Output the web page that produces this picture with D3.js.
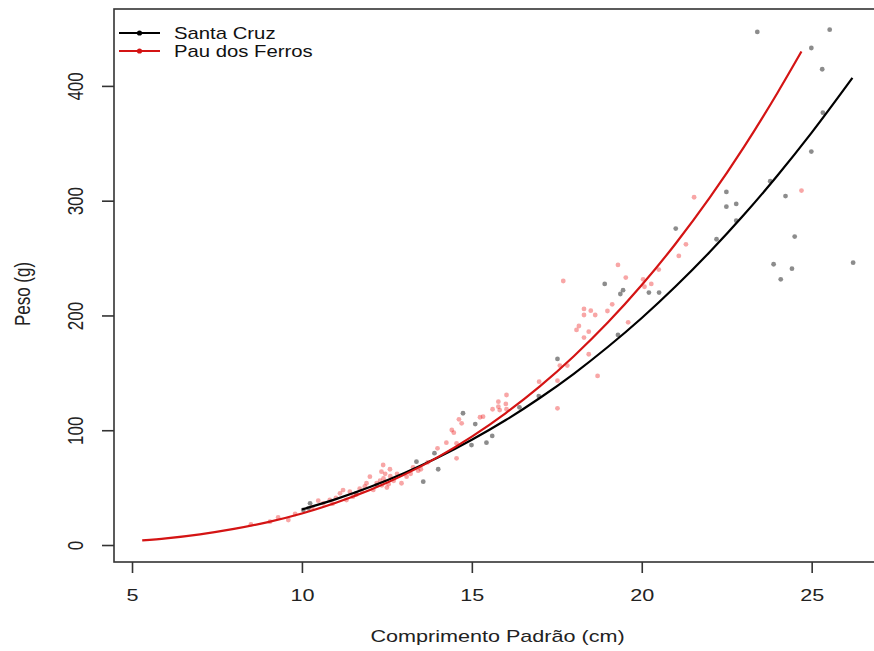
<!DOCTYPE html>
<html>
<head>
<meta charset="utf-8">
<script src="https://cdn.jsdelivr.net/npm/d3@7"></script>
<style>
  body { margin: 0; background: #fff; }
  svg { display: block; font-family: "Liberation Sans", Arial, sans-serif; }
</style>
</head>
<body>
<div id="chart"></div>
<script>
"use strict";

// tick labels
const xTicks = [5, 10, 15, 20, 25];
const yTicks = [0, 100, 200, 300, 400];

// legend
const seriesNames = ["Santa Cruz", "Pau dos Ferros"];
const seriesColors = ["#000000", "#d41414"];

// Santa Cruz observations: standard length (cm) and weight (g)
const santaCruzL = [23.4, 25.53, 24.99, 25.31, 25.33, 24.99, 23.78, 24.23, 22.49, 22.49,
  22.78, 22.78, 22.2, 21.0, 24.5, 23.88, 24.42, 24.09, 26.22, 18.91,
  19.45, 19.37, 20.21, 20.51, 19.3, 17.52, 16.97, 14.74, 15.1, 14.99,
  15.43, 14.01, 13.37, 13.57, 10.24, 10.19, 10.04, 12.2, 11.6, 13.9, 15.6, 16.4];
const santaCruzW = [447, 449, 433, 414.5, 376.7, 342.8, 317, 304, 307.6, 294.8,
  297.2, 282.6, 266.4, 275.7, 268.7, 244.6, 240.8, 231.5, 246, 227.5,
  222, 218.7, 219.9, 219.9, 183, 162.1, 129.8, 114.8, 105.4, 87.1,
  89.2, 66, 72.6, 55.2, 36.3, 32, 30.5, 52, 45, 80, 95, 120];

// Pau dos Ferros observations
const pauL = [24.7, 21.54, 21.09, 19.3, 19.53, 20.04, 20.28, 20.08, 17.69, 18.3,
  18.5, 18.3, 18.63, 18.99, 19.13, 18.15, 18.08, 18.44, 18.3, 19.6,
  18.44, 17.59, 17.81, 18.7, 16.98, 17.52, 17.52, 16.02, 15.78, 16.0,
  15.61, 15.82, 16.02, 15.33, 14.62, 14.7, 14.41, 14.47, 15.24, 15.78,
  14.25, 13.99, 14.55, 14.55, 13.27, 13.42, 13.08, 12.93, 12.39, 12.34,
  12.59, 12.4, 12.45, 12.35, 12.5, 12.3, 11.9, 12.0, 11.85, 11.76,
  11.41, 11.21, 11.12, 11.5, 11.31, 10.82, 10.63, 10.48, 9.6, 9.06,
  21.3, 20.5, 8.5, 9.3, 9.8, 10.3, 10.9, 11.0, 11.6, 11.7,
  12.1, 12.2, 12.6, 12.7, 12.8, 13.2, 13.5, 13.7, 12.45, 12.55];
const pauW = [308.8, 303, 251.9, 244, 233, 231.5, 227.5, 225, 230, 205.7,
  204.2, 200.4, 200.4, 203.9, 209.7, 190.8, 187.4, 185.9, 180.7, 194,
  166.2, 156.3, 156.3, 147.3, 142.3, 143.2, 119.1, 130.7, 124.9, 122.9,
  118.3, 117.6, 118.3, 111.8, 109.5, 106.0, 100.2, 97.9, 111.3, 120.5,
  89.2, 84.2, 88.6, 75.5, 67.7, 64.8, 59.5, 53.8, 69.7, 63.9,
  66, 58, 55, 52, 50, 56, 53.8, 59.5, 51, 46.7,
  46.4, 47.9, 45, 42.1, 39.2, 39.2, 36.3, 38.6, 21.8, 20.3,
  262, 240, 18, 24, 27, 33, 36, 41, 44, 49,
  48, 54, 60, 56, 62, 62, 66, 72, 62, 53];

// fitted curves
const santaCruzCurveL = [10, 11, 12, 13, 14, 15, 16, 17, 18, 19, 20, 21, 22, 23, 24, 25, 26.2];
const santaCruzCurveW = [31, 40, 50.5, 62.5, 76.2, 91.7, 108.9, 128.1, 149.2, 172.5, 197.8, 225.4, 255.3, 287.5, 322.2, 359.3, 407];
const pauCurveL = [5.3, 6, 7, 8, 9, 10, 11, 12, 13, 14, 15, 16, 17, 18, 19, 20, 21, 22, 23, 24, 24.7];
const pauCurveW = [4.0, 5.8, 9.3, 14.0, 20.0, 27.5, 36.8, 47.9, 61.1, 76.6, 94.5, 115.0, 138.2, 164.5, 193.8, 226.5, 262.7, 302.6, 346.4, 394.3, 430];

const W = 874;
const H = 651;
const box = { left: 114, right: 881, top: 9, bottom: 562 };
const stretch = 1.27; // the picture is wider than it is tall

function zip(a, b) {
  return a.map((v, i) => [v, b[i]]);
}

function draw() {
  const svg = d3.select("#chart").append("svg")
    .attr("width", W)
    .attr("height", H);

  const x = d3.scaleLinear().domain([4.47, 27.04]).range([box.left, box.right]);
  const y = d3.scaleLinear().domain([-14.8, 467]).range([box.bottom, box.top]);

  // points first, curves on top
  svg.append("g").selectAll("circle")
    .data(zip(santaCruzL, santaCruzW))
    .enter().append("circle")
    .attr("cx", (d) => x(d[0]))
    .attr("cy", (d) => y(d[1]))
    .attr("r", 2.4)
    .attr("fill", "#000")
    .attr("fill-opacity", 0.45);

  svg.append("g").selectAll("circle")
    .data(zip(pauL, pauW))
    .enter().append("circle")
    .attr("cx", (d) => x(d[0]))
    .attr("cy", (d) => y(d[1]))
    .attr("r", 2.4)
    .attr("fill", "#ee2020")
    .attr("fill-opacity", 0.4);

  const line = d3.line()
    .x((d) => x(d[0]))
    .y((d) => y(d[1]))
    .curve(d3.curveMonotoneX);

  svg.append("path")
    .datum(zip(santaCruzCurveL, santaCruzCurveW))
    .attr("d", line)
    .attr("fill", "none")
    .attr("stroke", seriesColors[0])
    .attr("stroke-width", 2.2);

  svg.append("path")
    .datum(zip(pauCurveL, pauCurveW))
    .attr("d", line)
    .attr("fill", "none")
    .attr("stroke", seriesColors[1])
    .attr("stroke-width", 2.2);

  // plot box
  svg.append("rect")
    .attr("x", box.left)
    .attr("y", box.top)
    .attr("width", box.right - box.left)
    .attr("height", box.bottom - box.top)
    .attr("fill", "none")
    .attr("stroke", "#333")
    .attr("stroke-width", 1.6);

  // x axis
  const xAxis = svg.append("g")
    .attr("transform", `translate(0, ${box.bottom})`)
    .call(d3.axisBottom(x).tickValues(xTicks).tickSize(11).tickSizeOuter(0));
  xAxis.select(".domain").remove();
  xAxis.selectAll(".tick line").attr("stroke", "#333").attr("stroke-width", 1.6);
  xAxis.selectAll(".tick text")
    .attr("y", 0)
    .attr("dy", 39)
    .attr("transform", `scale(${stretch},1)`)
    .attr("font-size", 17)
    .attr("fill", "#222");

  // y axis
  const yAxis = svg.append("g")
    .attr("transform", `translate(${box.left}, 0)`)
    .call(d3.axisLeft(y).tickValues(yTicks).tickSize(12).tickSizeOuter(0));
  yAxis.select(".domain").remove();
  yAxis.selectAll(".tick line").attr("stroke", "#333").attr("stroke-width", 1.6);
  yAxis.selectAll(".tick text")
    .attr("x", 0)
    .attr("dy", "0.35em")
    .attr("text-anchor", "middle")
    .attr("transform", `translate(-39,0) scale(${stretch},1) rotate(-90)`)
    .attr("font-size", 17)
    .attr("fill", "#222");

  // axis titles
  svg.append("text")
    .attr("text-anchor", "middle")
    .attr("dy", "0.35em")
    .attr("transform", `translate(${(box.left + box.right) / 2}, 636) scale(${stretch},1)`)
    .attr("font-size", 17)
    .attr("fill", "#222")
    .text("Comprimento Padrão (cm)");

  svg.append("text")
    .attr("text-anchor", "middle")
    .attr("dy", "0.35em")
    .attr("transform", `translate(22, 294) scale(${stretch},1) rotate(-90)`)
    .attr("font-size", 17)
    .attr("fill", "#222")
    .text("Peso (g)");

  // legend
  const legend = svg.append("g").attr("id", "legend");
  const rows = legend.selectAll("g")
    .data(seriesNames)
    .enter().append("g")
    .attr("transform", (d, i) => `translate(0, ${33 + i * 18})`);

  rows.append("line")
    .attr("x1", 119)
    .attr("x2", 160)
    .attr("stroke", (d, i) => seriesColors[i])
    .attr("stroke-width", 2.2);

  rows.append("circle")
    .attr("cx", 139.5)
    .attr("r", 2.6)
    .attr("fill", (d, i) => seriesColors[i]);

  rows.append("text")
    .attr("dy", "0.35em")
    .attr("transform", `translate(174,0) scale(${stretch},1)`)
    .attr("font-size", 16)
    .attr("fill", "#111")
    .text((d) => d);
}

draw();
</script>
</body>
</html>
